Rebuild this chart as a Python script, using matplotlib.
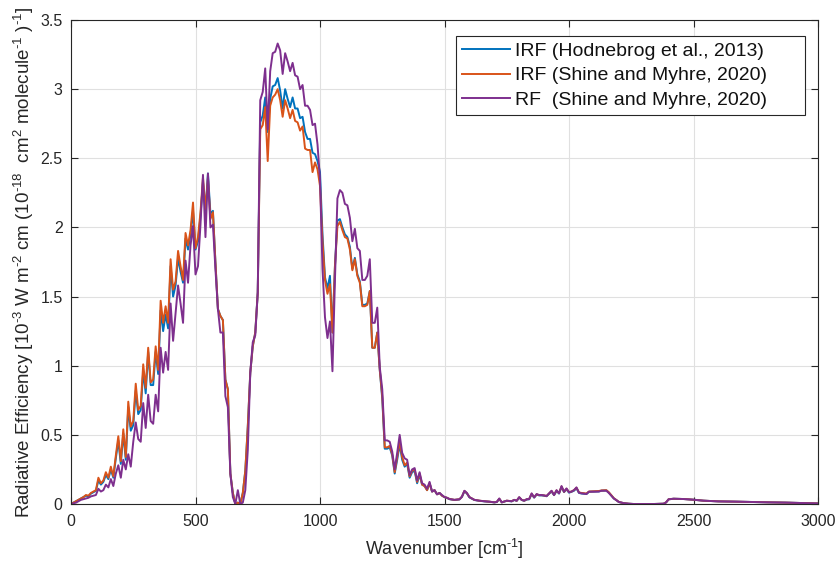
import matplotlib
matplotlib.use("Agg")
import matplotlib.pyplot as plt
import numpy as np

plt.rcParams['font.family'] = ['Liberation Sans', 'DejaVu Sans']
plt.rcParams['mathtext.fontset'] = 'custom'
plt.rcParams['mathtext.rm'] = 'Liberation Sans'
plt.rcParams['mathtext.it'] = 'Liberation Sans:italic'
plt.rcParams['mathtext.bf'] = 'Liberation Sans:bold'

# Wavenumber grid (cm^-1): 10 cm^-1 steps to 1500, then readings along the tail
wn_main = list(range(0, 1501, 10))
wn_tail = [1510, 1520, 1540, 1560, 1570, 1580, 1590, 1600, 1620, 1640, 1660, 1680,
           1700, 1710, 1720, 1730, 1750, 1770, 1780, 1790, 1800, 1810, 1820, 1830,
           1840, 1850, 1860, 1870, 1880, 1890, 1900, 1910, 1920, 1930, 1940, 1950,
           1960, 1970, 1980, 1990, 2000, 2010, 2020, 2030, 2040, 2050, 2060, 2070,
           2080, 2100, 2120, 2130, 2150, 2160, 2170, 2180, 2190, 2200, 2220, 2240,
           2260, 2300, 2340, 2380, 2390, 2400, 2420, 2460, 2500, 2540, 2600, 2670,
           2740, 2800, 2870, 2940, 3000]
wavenumber = wn_main + wn_tail

# IRF (Shine and Myhre, 2020)
irf_shine_main = [
    0, 0.01, 0.02, 0.03, 0.04, 0.05, 0.065, 0.06, 0.08, 0.09,
    0.10, 0.19, 0.15, 0.17, 0.23, 0.19, 0.27, 0.20, 0.35, 0.49,
    0.31, 0.54, 0.34, 0.74, 0.56, 0.60, 0.87, 0.68, 0.71, 1.01,
    0.84, 1.13, 0.88, 0.90, 1.14, 0.97, 1.47, 1.31, 1.43, 1.31,
    1.77, 1.55, 1.61, 1.83, 1.72, 1.62, 1.96, 1.87, 1.98, 2.18,
    1.85, 1.93, 2.11, 2.36, 2.13, 2.36, 2.06, 2.11, 1.75, 1.41,
    1.36, 1.33, 0.90, 0.83, 0.22, 0.08, 0.0, 0.01, 0.0, 0.08,
    0.24, 0.56, 0.95, 1.14, 1.24, 1.53, 2.71, 2.74, 2.87, 2.48,
    2.88, 2.94, 2.96, 3.00, 2.92, 2.80, 2.92, 2.86, 2.79, 2.85,
    2.77, 2.76, 2.70, 2.73, 2.57, 2.56, 2.56, 2.40, 2.47, 2.42,
    2.30, 1.90, 1.62, 1.52, 1.59, 1.24, 1.72, 2.01, 2.04, 1.98,
    1.93, 1.92, 1.84, 1.69, 1.77, 1.65, 1.60, 1.43, 1.43, 1.44,
    1.54, 1.13, 1.13, 1.24, 0.97, 0.78, 0.41, 0.41, 0.42, 0.36,
    0.23, 0.34, 0.45, 0.34, 0.28, 0.30, 0.20, 0.24, 0.25, 0.16,
    0.22, 0.14, 0.13, 0.10, 0.15, 0.09, 0.10, 0.07, 0.08, 0.06,
    0.05]
irf_shine_tail = [
    0.045, 0.036, 0.030, 0.034, 0.053, 0.094, 0.078, 0.050, 0.030, 0.024, 0.020, 0.017,
    0.012, 0.015, 0.038, 0.012, 0.024, 0.020, 0.030, 0.024, 0.048, 0.030, 0.024, 0.034,
    0.036, 0.074, 0.048, 0.070, 0.064, 0.064, 0.062, 0.058, 0.076, 0.094, 0.066, 0.098,
    0.078, 0.126, 0.088, 0.110, 0.086, 0.090, 0.100, 0.118, 0.084, 0.080, 0.078, 0.076,
    0.090, 0.092, 0.094, 0.098, 0.100, 0.085, 0.064, 0.042, 0.029, 0.015, 0.006, 0.002,
    0.0, 0.0, 0.0, 0.002, 0.012, 0.034, 0.038, 0.036, 0.031, 0.024, 0.019, 0.017,
    0.014, 0.012, 0.010, 0.007, 0.004]

# IRF (Hodnebrog et al., 2013)
irf_hod_main = [
    0, 0.01, 0.02, 0.03, 0.04, 0.05, 0.06, 0.055, 0.075, 0.085,
    0.095, 0.17, 0.14, 0.16, 0.21, 0.18, 0.25, 0.19, 0.33, 0.46,
    0.29, 0.51, 0.32, 0.70, 0.53, 0.57, 0.82, 0.65, 0.68, 0.96,
    0.80, 1.10, 0.86, 0.86, 1.10, 0.94, 1.40, 1.25, 1.37, 1.27,
    1.72, 1.50, 1.58, 1.78, 1.68, 1.60, 1.92, 1.84, 1.95, 2.12,
    1.84, 1.90, 2.08, 2.33, 2.12, 2.39, 2.10, 2.12, 1.75, 1.41,
    1.36, 1.33, 0.90, 0.83, 0.22, 0.08, 0.0, 0.01, 0.0, 0.08,
    0.24, 0.56, 0.95, 1.14, 1.24, 1.53, 2.76, 2.81, 2.94, 2.69,
    2.93, 3.02, 3.03, 3.08, 2.99, 2.86, 3.00, 2.93, 2.87, 2.94,
    2.86, 2.86, 2.79, 2.80, 2.69, 2.64, 2.64, 2.54, 2.53, 2.48,
    2.40, 1.95, 1.64, 1.56, 1.65, 1.24, 1.72, 2.05, 2.06, 2.00,
    1.95, 1.93, 1.86, 1.70, 1.78, 1.66, 1.61, 1.44, 1.44, 1.45,
    1.54, 1.13, 1.13, 1.24, 0.97, 0.76, 0.40, 0.40, 0.41, 0.35,
    0.22, 0.32, 0.43, 0.32, 0.27, 0.29, 0.19, 0.23, 0.24, 0.15,
    0.21, 0.14, 0.13, 0.10, 0.15, 0.09, 0.10, 0.07, 0.08, 0.06,
    0.05]
irf_hod_tail = [
    0.044, 0.035, 0.029, 0.033, 0.051, 0.092, 0.076, 0.048, 0.029, 0.023, 0.019, 0.016,
    0.012, 0.014, 0.036, 0.012, 0.023, 0.019, 0.029, 0.023, 0.046, 0.029, 0.023, 0.032,
    0.034, 0.070, 0.046, 0.068, 0.062, 0.062, 0.060, 0.056, 0.074, 0.090, 0.064, 0.094,
    0.076, 0.122, 0.086, 0.106, 0.082, 0.088, 0.096, 0.114, 0.080, 0.076, 0.074, 0.072,
    0.088, 0.090, 0.091, 0.096, 0.098, 0.082, 0.062, 0.040, 0.028, 0.014, 0.006, 0.002,
    0.0, 0.0, 0.0, 0.002, 0.012, 0.034, 0.038, 0.036, 0.031, 0.024, 0.019, 0.017,
    0.014, 0.012, 0.010, 0.007, 0.004]

# RF (Shine and Myhre, 2020)
rf_shine_main = [
    0, 0.005, 0.01, 0.02, 0.03, 0.035, 0.04, 0.045, 0.055, 0.06,
    0.065, 0.11, 0.09, 0.10, 0.14, 0.12, 0.18, 0.13, 0.22, 0.28,
    0.19, 0.32, 0.25, 0.36, 0.27, 0.45, 0.59, 0.47, 0.45, 0.73,
    0.55, 0.79, 0.60, 0.58, 0.79, 0.67, 1.13, 0.95, 1.10, 0.97,
    1.45, 1.18, 1.38, 1.58, 1.45, 1.31, 1.76, 1.60, 1.87, 2.01,
    1.66, 1.72, 2.02, 2.38, 1.93, 2.39, 2.00, 2.02, 1.70, 1.41,
    1.24, 1.24, 0.78, 0.70, 0.22, 0.05, 0.0, 0.10, 0.0, 0.01,
    0.10, 0.39, 0.95, 1.17, 1.22, 1.53, 2.92, 2.98, 3.15, 2.71,
    3.13, 3.26, 3.27, 3.33, 3.28, 3.11, 3.26, 3.20, 3.13, 3.19,
    3.10, 3.09, 3.00, 3.03, 2.88, 2.88, 2.85, 2.74, 2.75, 2.60,
    2.35, 1.70, 1.35, 1.20, 1.32, 0.96, 1.62, 2.21, 2.27, 2.25,
    2.17, 2.16, 2.07, 1.90, 1.99, 1.85, 1.83, 1.62, 1.62, 1.65,
    1.77, 1.31, 1.31, 1.42, 0.99, 0.83, 0.46, 0.46, 0.45, 0.38,
    0.25, 0.37, 0.50, 0.37, 0.33, 0.32, 0.21, 0.25, 0.26, 0.17,
    0.23, 0.15, 0.14, 0.11, 0.16, 0.09, 0.10, 0.07, 0.08, 0.065,
    0.05]
rf_shine_tail = [
    0.045, 0.036, 0.030, 0.034, 0.053, 0.096, 0.080, 0.050, 0.030, 0.024, 0.020, 0.017,
    0.012, 0.015, 0.040, 0.012, 0.024, 0.020, 0.030, 0.024, 0.050, 0.030, 0.024, 0.035,
    0.036, 0.077, 0.048, 0.072, 0.065, 0.065, 0.062, 0.058, 0.077, 0.096, 0.065, 0.100,
    0.077, 0.130, 0.089, 0.113, 0.085, 0.090, 0.100, 0.120, 0.082, 0.077, 0.075, 0.072,
    0.089, 0.089, 0.090, 0.096, 0.096, 0.080, 0.060, 0.040, 0.028, 0.015, 0.006, 0.002,
    0.0, 0.0, 0.0, 0.002, 0.012, 0.034, 0.038, 0.036, 0.031, 0.024, 0.019, 0.017,
    0.014, 0.012, 0.010, 0.007, 0.004]

irf_hod = irf_hod_main + irf_hod_tail
irf_shine = irf_shine_main + irf_shine_tail
rf_shine = rf_shine_main + rf_shine_tail

labels = ["IRF (Hodnebrog et al., 2013)",
          "IRF (Shine and Myhre, 2020)",
          "RF  (Shine and Myhre, 2020)"]
colors = ["#0072BD", "#D95319", "#7E2F8E"]

xticks = [0, 500, 1000, 1500, 2000, 2500, 3000]
yticks = [0, 0.5, 1, 1.5, 2, 2.5, 3, 3.5]
ytick_labels = ["0", "0.5", "1", "1.5", "2", "2.5", "3", "3.5"]

fig = plt.figure(figsize=(8.36, 5.63), dpi=100)
ax = fig.add_axes([71/836, 59/563, 747/836, 484/563])

for series, lab, col in zip([irf_hod, irf_shine, rf_shine], labels, colors):
    ax.plot(wavenumber, series, color=col, lw=1.4, label=lab)

ax.set_xlim(0, 3000)
ax.set_ylim(0, 3.5)
ax.set_xticks(xticks)
ax.set_xticklabels([str(t) for t in xticks])
ax.set_yticks(yticks)
ax.set_yticklabels(ytick_labels)

axcol = "#262626"
for s in ax.spines.values():
    s.set_color(axcol)
    s.set_linewidth(0.8)
ax.tick_params(direction='in', length=5, width=0.8, color=axcol, labelcolor=axcol,
               labelsize=11.5, top=True, right=True)
ax.tick_params(axis='x', pad=7)
ax.tick_params(axis='y', pad=6)
ax.grid(True, color='#e0e0e0', lw=0.8)
ax.set_axisbelow(True)

ax.set_xlabel(r"Wavenumber [cm$^{\text{-}1}$]", fontsize=13, color=axcol, labelpad=6)
ax.set_ylabel(r"Radiative Efficiency [10$^{\text{-}3}$ W m$^{\text{-}2}$ cm (10$^{\text{-}18}$  cm$^{2}$ molecule$^{\text{-}1}$ )$^{\text{-}1}$]",
              fontsize=13.5, color=axcol, labelpad=3)

leg = ax.legend(loc='upper left', bbox_to_anchor=(0.5154, 0.8037, 0.4672, 0.163),
                mode='expand', fontsize=14,
                frameon=True, fancybox=False, edgecolor=axcol, framealpha=1,
                handlelength=2.5, handletextpad=0.25, borderpad=0.3, labelspacing=0.37,
                borderaxespad=0)
leg.get_frame().set_linewidth(0.8)
for t in leg.get_texts():
    t.set_color("#111111")

fig.savefig("out.png", dpi=100)
